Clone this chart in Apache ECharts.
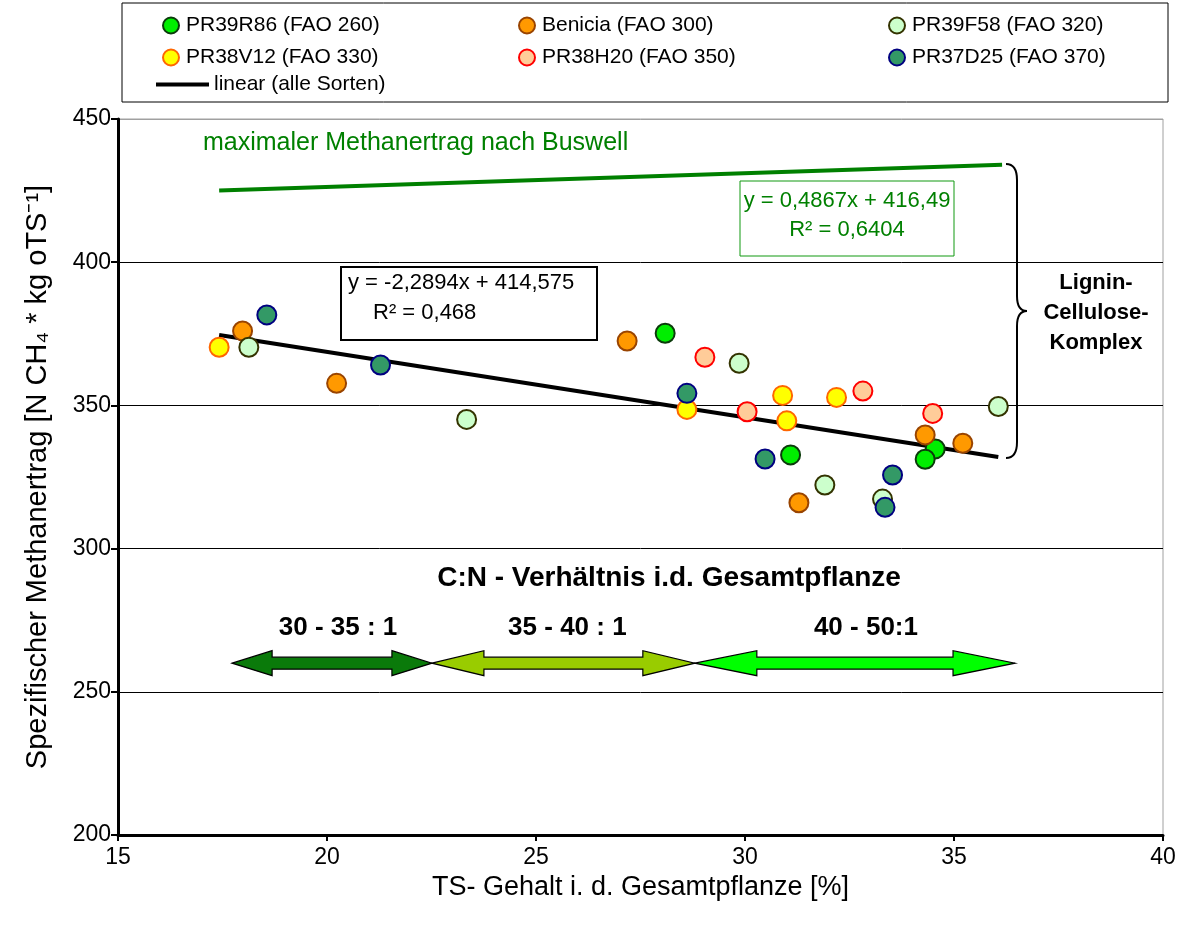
<!DOCTYPE html>
<html>
<head>
<meta charset="utf-8">
<script src="https://cdn.jsdelivr.net/npm/echarts@6/dist/echarts.min.js"></script>
<style>
  html, body { margin: 0; padding: 0; background: #fff; }
  #chart { width: 1188px; height: 925px; }
</style>
</head>
<body>
<div id="chart"></div>
<script>
// values: [TS %, specific methane yield]
const PR39R86 = [[28.09, 375.2], [31.09, 332.7], [34.55, 334.8], [34.31, 331.2]];
const Benicia = [[17.98, 376.0], [20.23, 357.7], [27.18, 372.5], [31.29, 316.0], [34.31, 339.7], [35.21, 336.8]];
const PR39F58 = [[18.13, 370.3], [23.34, 345.1], [29.86, 364.7], [31.91, 322.2], [33.29, 317.3], [36.06, 349.6]];
const PR38V12 = [[17.42, 370.3], [28.61, 348.6], [30.90, 353.5], [31.00, 344.6], [32.19, 352.8]];
const PR38H20 = [[29.04, 366.8], [30.05, 347.8], [32.82, 355.0], [34.49, 347.2]];
const PR37D25 = [[18.56, 381.6], [21.28, 364.1], [28.61, 354.2], [30.48, 331.3], [33.53, 325.7], [33.35, 314.4]];

const trendLine = [[17.42, 374.6], [36.06, 332.0]];
const buswellLine = [[17.42, 425.0], [36.15, 434.0]];

// C:N ranges drawn as double arrows: [x from, x to, y, label]
const cnRanges = [
  [17.73, 22.51, 260, '30 - 35 : 1'],
  [22.51, 28.80, 260, '35 - 40 : 1'],
  [28.80, 36.46, 260, '40 - 50:1']
];
const arrowColors = ['#0a7a0a', '#99cc00', '#00ff00'];
const arrowHeads = [40, 52, 62];
const arrowLabelShift = [6, 4, 11];

const xTicks = { min: 15, max: 40, interval: 5 };
const yTicks = { min: 200, max: 450, interval: 50 };

const FONT = 'Liberation Sans, Arial, sans-serif';

const varieties = [
  { name: 'PR39R86 (FAO 260)', data: PR39R86, fill: '#00ee00', border: '#0b3b0b' },
  { name: 'Benicia (FAO 300)', data: Benicia, fill: '#ff9900', border: '#994400' },
  { name: 'PR39F58 (FAO 320)', data: PR39F58, fill: '#ccffcc', border: '#333300' },
  { name: 'PR38V12 (FAO 330)', data: PR38V12, fill: '#ffff00', border: '#ff6600' },
  { name: 'PR38H20 (FAO 350)', data: PR38H20, fill: '#ffcc99', border: '#ff0000' },
  { name: 'PR37D25 (FAO 370)', data: PR37D25, fill: '#339966', border: '#000080' }
];

const chart = echarts.init(document.getElementById('chart'));

const legendBase = {
  orient: 'vertical',
  top: 15,
  itemWidth: 20,
  itemHeight: 16,
  itemGap: 11,
  padding: 0,
  icon: 'circle',
  selectedMode: false,
  textStyle: { fontSize: 21, lineHeight: 16, fontFamily: FONT, color: '#000' }
};

function arrowItem(params, api) {
  const i = params.dataIndex;
  const a = api.coord([api.value(0), api.value(2)]);
  const b = api.coord([api.value(1), api.value(2)]);
  const y = a[1], x1 = a[0], x2 = b[0];
  const h = arrowHeads[i], H = 12.5, S = 6;
  const pts = [
    [x1, y], [x1 + h, y - H], [x1 + h, y - S], [x2 - h, y - S], [x2 - h, y - H],
    [x2, y], [x2 - h, y + H], [x2 - h, y + S], [x1 + h, y + S], [x1 + h, y + H]
  ];
  return {
    type: 'group',
    children: [
      {
        type: 'polygon',
        shape: { points: pts },
        style: { fill: arrowColors[i], stroke: '#000', lineWidth: 1.2 }
      },
      {
        type: 'text',
        style: {
          text: cnRanges[i][3],
          x: (x1 + x2) / 2 + arrowLabelShift[i],
          y: y - 35,
          align: 'center',
          verticalAlign: 'middle',
          font: 'bold 26px ' + FONT,
          fill: '#000'
        }
      }
    ]
  };
}

// curly brace next to the Buswell gap
const braceStyle = { fill: 'none', stroke: '#000', lineWidth: 2 };
const brace = [
  { type: 'bezierCurve', shape: { x1: 1006, y1: 164, cpx1: 1017, cpy1: 164, x2: 1017, y2: 180 }, style: braceStyle },
  { type: 'line', shape: { x1: 1017, y1: 180, x2: 1017, y2: 296 }, style: braceStyle },
  { type: 'bezierCurve', shape: { x1: 1017, y1: 296, cpx1: 1017, cpy1: 311, x2: 1027, y2: 311 }, style: braceStyle },
  { type: 'bezierCurve', shape: { x1: 1027, y1: 311, cpx1: 1017, cpy1: 311, x2: 1017, y2: 326 }, style: braceStyle },
  { type: 'line', shape: { x1: 1017, y1: 326, x2: 1017, y2: 442 }, style: braceStyle },
  { type: 'bezierCurve', shape: { x1: 1017, y1: 442, cpx1: 1017, cpy1: 458, x2: 1006, y2: 458 }, style: braceStyle }
];

chart.setOption({
  animation: false,
  backgroundColor: '#fff',
  grid: {
    left: 118, right: 25, top: 119, bottom: 90,
    show: true, borderColor: '#a0a0a0', borderWidth: 1
  },
  legend: [
    Object.assign({}, legendBase, { left: 162, data: ['PR39R86 (FAO 260)', 'PR38V12 (FAO 330)'] }),
    Object.assign({}, legendBase, { left: 518, data: ['Benicia (FAO 300)', 'PR38H20 (FAO 350)'] }),
    Object.assign({}, legendBase, { left: 888, data: ['PR39F58 (FAO 320)', 'PR37D25 (FAO 370)'] }),
    Object.assign({}, legendBase, { left: 156, top: 74, itemWidth: 53, itemHeight: 4, icon: 'rect', data: ['linear (alle Sorten)'] })
  ],
  xAxis: {
    type: 'value',
    min: xTicks.min, max: xTicks.max, interval: xTicks.interval,
    name: 'TS- Gehalt i. d. Gesamtpflanze [%]',
    nameLocation: 'middle',
    nameGap: 30,
    nameTextStyle: { fontSize: 27, fontFamily: FONT, color: '#000' },
    axisLine: { lineStyle: { color: '#000', width: 3 } },
    axisTick: { inside: false, length: 6, lineStyle: { color: '#000', width: 2 } },
    axisLabel: { fontSize: 23, fontFamily: FONT, color: '#000', margin: 11 },
    splitLine: { show: false }
  },
  yAxis: {
    type: 'value',
    min: yTicks.min, max: yTicks.max, interval: yTicks.interval,
    name: 'Spezifischer Methanertrag [N CH\u2084 * kg oTS\u207B\u00B9]',
    nameLocation: 'middle',
    nameGap: 66,
    nameTextStyle: { fontSize: 29, fontFamily: FONT, color: '#000' },
    axisLine: { lineStyle: { color: '#000', width: 3 } },
    axisTick: { inside: false, length: 7, lineStyle: { color: '#000', width: 2 } },
    axisLabel: { fontSize: 23, fontFamily: FONT, color: '#000', margin: 7 },
    splitLine: {
      show: true,
      lineStyle: { color: ['#000', '#000', '#000', '#000', '#000', '#a0a0a0'], width: 1 }
    }
  },
  series: [
    {
      name: 'maximaler Methanertrag nach Buswell',
      type: 'line',
      data: buswellLine,
      symbol: 'none',
      lineStyle: { color: '#008000', width: 4 },
      itemStyle: { color: '#008000' }
    },
    {
      name: 'linear (alle Sorten)',
      type: 'line',
      data: trendLine,
      symbol: 'none',
      lineStyle: { color: '#000', width: 4 },
      itemStyle: { color: '#000' }
    },
    {
      type: 'custom',
      renderItem: arrowItem,
      data: cnRanges.map(r => [r[0], r[1], r[2]]),
      silent: true,
      z: 1
    }
  ].concat(varieties.map(v => ({
    name: v.name,
    type: 'scatter',
    data: v.data,
    symbol: 'circle',
    symbolSize: 19,
    z: 3,
    itemStyle: { color: v.fill, borderColor: v.border, borderWidth: 2, opacity: 1 }
  }))),
  graphic: [
    // legend frame
    { type: 'rect', shape: { x: 122, y: 3, width: 1046, height: 99 }, style: { fill: 'none', stroke: '#000', lineWidth: 1 } },
    // Buswell label
    {
      type: 'text',
      style: { text: 'maximaler Methanertrag nach Buswell', x: 203, y: 143, verticalAlign: 'middle', font: '25px ' + FONT, fill: '#008000' }
    },
    // Buswell equation box
    { type: 'rect', shape: { x: 740, y: 181, width: 214, height: 75 }, style: { fill: '#fff', stroke: '#119911', lineWidth: 1 } },
    {
      type: 'text',
      style: { text: 'y = 0,4867x + 416,49', x: 847, y: 201, align: 'center', verticalAlign: 'middle', font: '22px ' + FONT, fill: '#008000' }
    },
    {
      type: 'text',
      style: { text: 'R\u00B2 = 0,6404', x: 847, y: 230, align: 'center', verticalAlign: 'middle', font: '22px ' + FONT, fill: '#008000' }
    },
    // trend equation box
    { type: 'rect', shape: { x: 341, y: 267, width: 256, height: 73 }, style: { fill: '#fff', stroke: '#000', lineWidth: 2 } },
    {
      type: 'text',
      style: { text: 'y = -2,2894x + 414,575', x: 348, y: 283, verticalAlign: 'middle', font: '22px ' + FONT, fill: '#000' }
    },
    {
      type: 'text',
      style: { text: 'R\u00B2 = 0,468', x: 373, y: 313, verticalAlign: 'middle', font: '22px ' + FONT, fill: '#000' }
    },
    {
      type: 'text',
      style: { text: 'Lignin-\nCellulose-\nKomplex', x: 1096, y: 313, align: 'center', verticalAlign: 'middle', lineHeight: 30, font: 'bold 22px ' + FONT, fill: '#000' }
    },
    // C:N heading
    {
      type: 'text',
      style: { text: 'C:N - Verh\u00E4ltnis i.d. Gesamtpflanze', x: 669, y: 578, align: 'center', verticalAlign: 'middle', font: 'bold 28px ' + FONT, fill: '#000' }
    }
  ].concat(brace)
});
</script>
</body>
</html>
